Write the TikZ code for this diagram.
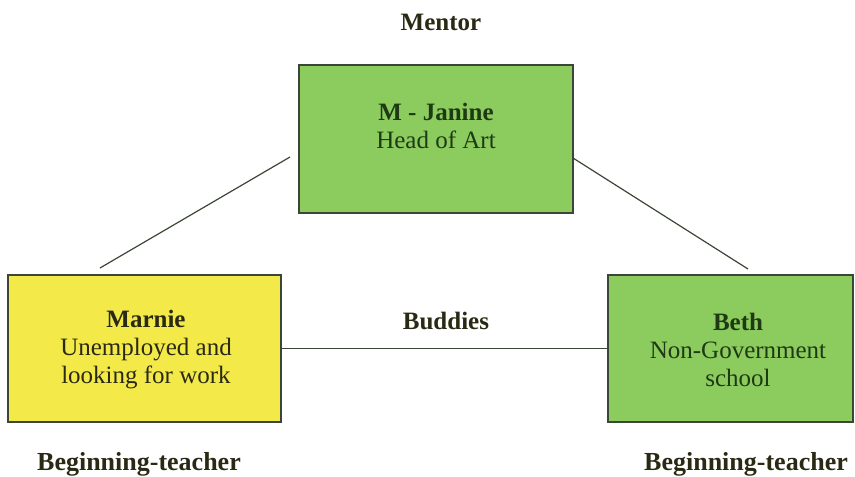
\documentclass[tikz,border=0pt]{standalone}
\usepackage{fontspec}
\setmainfont{Liberation Serif}
\begin{document}
\definecolor{boxgreen}{HTML}{8CCB5E}
\definecolor{boxyellow}{HTML}{F3EA4A}
\definecolor{edgeline}{HTML}{3C4636}
\definecolor{greentext}{HTML}{1E3A14}
\definecolor{darktext}{HTML}{2A2A14}
\begin{tikzpicture}[x=1pt,y=-1pt,
  rolebox/.style={draw=edgeline, line width=1.4pt, rectangle, inner sep=0pt},
  txt/.style={font=\fontsize{25}{28}\selectfont, align=center, inner sep=0pt},
  heading/.style={font=\fontsize{25}{28}\selectfont\bfseries, text=darktext, inner sep=0pt},
  rolelabel/.style={heading, font=\fontsize{26}{28}\selectfont\bfseries},
  link/.style={draw=edgeline, line width=1.2pt}]
\useasboundingbox (0,0) rectangle (855,477);

% boxes
\node[rolebox, fill=boxgreen, minimum width=274pt, minimum height=148pt] (mentor) at (436,139) {};
\node[rolebox, fill=boxyellow, minimum width=273pt, minimum height=147pt] (marnie) at (144.5,348.5) {};
\node[rolebox, fill=boxgreen, minimum width=245pt, minimum height=147pt] (beth) at (730.5,348.5) {};

% box texts
\node[txt, text=greentext] (mentortext) at (436,126) {\textbf{M - Janine}\\Head of Art};
\node[txt, text=darktext] (marnietext) at (146,350) {\textbf{Marnie}\\Unemployed and\\looking for work};
\node[txt, text=greentext] (bethtext) at (738,350) {\textbf{Beth}\\Non-Government\\school};

% headings
\node[heading] (mentorlabel) at (441,22) {Mentor};
\node[heading] (buddieslabel) at (446,321) {Buddies};
\node[rolelabel] (begleft) at (139,464) {Beginning-teacher};
\node[rolelabel] (begright) at (746,464) {Beginning-teacher};

% connector end points
\coordinate (lt) at (290,157);
\coordinate (lb) at (100,268);
\coordinate (rt) at (573,158);
\coordinate (rb) at (748,269);

% connectors
\draw[link] (lt) -- (lb);
\draw[link] (rt) -- (rb);
\draw[link] (marnie.east) -- (beth.west);
\end{tikzpicture}
\end{document}
